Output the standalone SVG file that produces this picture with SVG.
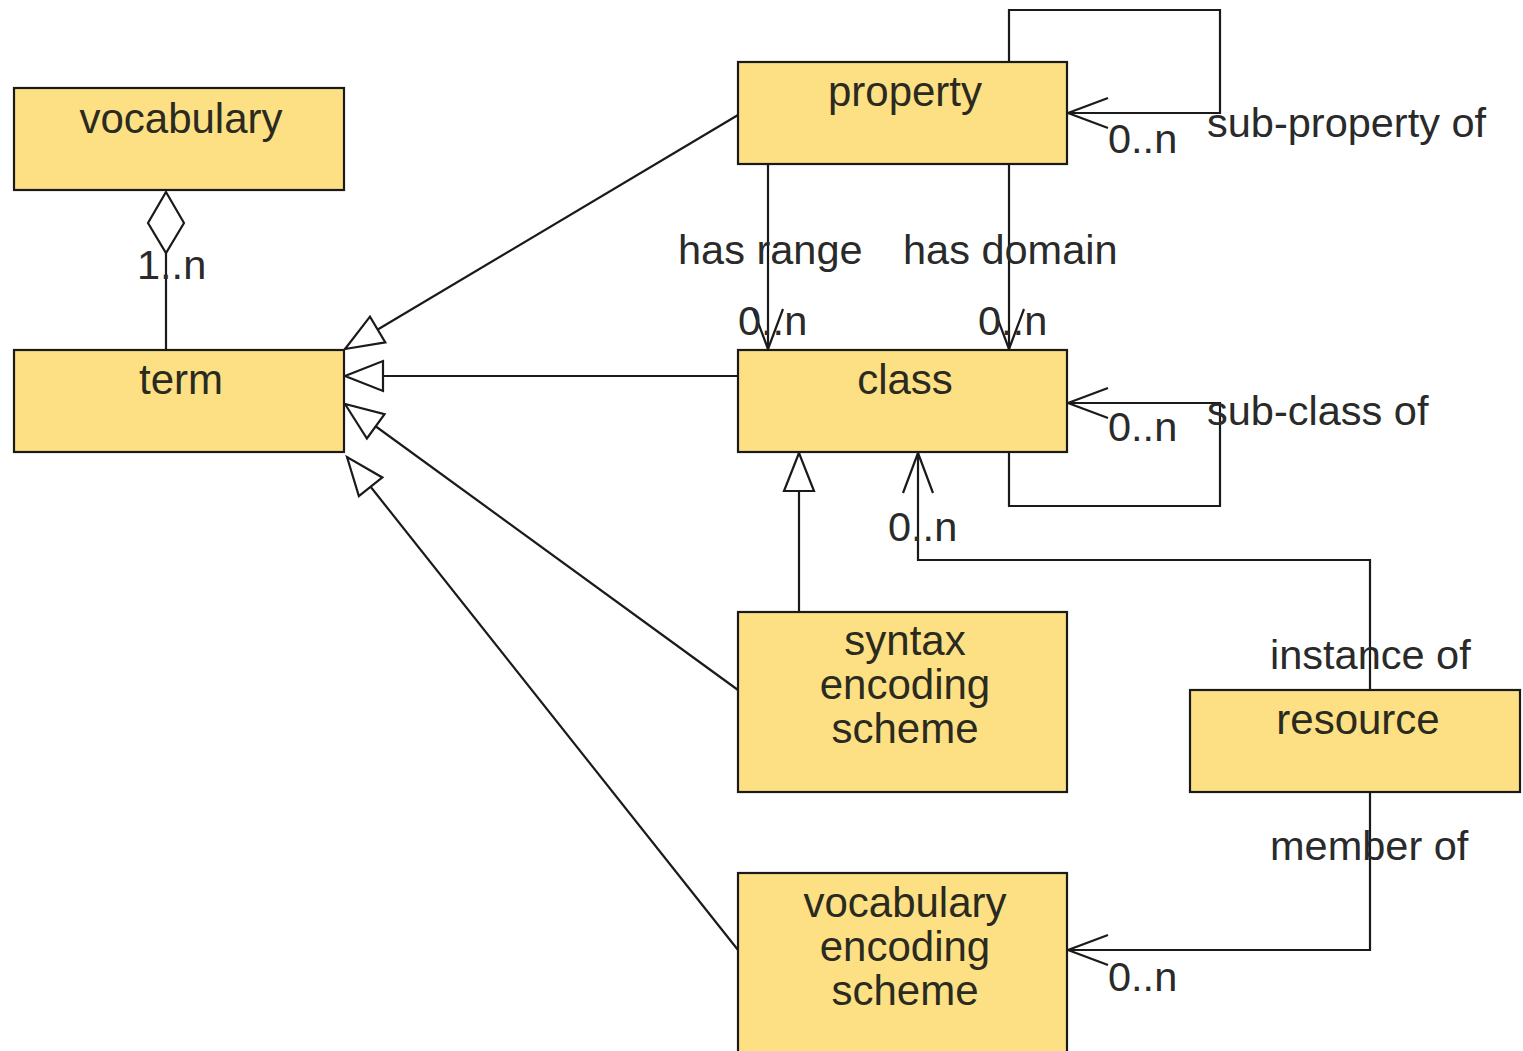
<svg xmlns="http://www.w3.org/2000/svg" width="1523" height="1051" viewBox="0 0 1523 1051">
<style>
.box{fill:#FCE083;stroke:#1a1a1a;stroke-width:2.2}
.t{font-family:"Liberation Sans",Arial,sans-serif;font-size:42px;fill:#2a2a20;text-anchor:middle}
.l{font-family:"Liberation Sans",Arial,sans-serif;font-size:41.5px;fill:#2a2a2a}
.c{fill:none;stroke:#1a1a1a;stroke-width:2.2}
</style>
<defs>
<marker id="gen" markerUnits="userSpaceOnUse" orient="auto" refX="0" refY="0" markerWidth="60" markerHeight="60" overflow="visible">
<polygon points="0,0 -38,-15 -38,15" fill="#fff" stroke="#1a1a1a" stroke-width="2.2"/>
</marker>
<marker id="open" markerUnits="userSpaceOnUse" orient="auto" refX="0" refY="0" markerWidth="60" markerHeight="60" overflow="visible">
<polyline points="-40,-15 0,0 -40,15" fill="none" stroke="#1a1a1a" stroke-width="2.2"/>
</marker>
</defs>
<rect width="1523" height="1051" fill="#fff"/>
<g id="connectors">
<line class="c" x1="166" y1="253" x2="166" y2="350"/>
<polygon points="166,192 184,223 166,253 148,223" fill="#fff" stroke="#1a1a1a" stroke-width="2.2"/>
<line class="c" x1="738" y1="115" x2="345" y2="349" marker-end="url(#gen)"/>
<line class="c" x1="738" y1="376" x2="345" y2="376" marker-end="url(#gen)"/>
<line class="c" x1="738" y1="690" x2="345" y2="404" marker-end="url(#gen)"/>
<line class="c" x1="738" y1="950" x2="347" y2="457" marker-end="url(#gen)"/>
<line class="c" x1="799" y1="612" x2="799" y2="453" marker-end="url(#gen)"/>
<line class="c" x1="768" y1="164" x2="768" y2="349" marker-end="url(#open)"/>
<line class="c" x1="1009" y1="164" x2="1009" y2="349" marker-end="url(#open)"/>
<polyline class="c" points="1009,62 1009,10 1220,10 1220,113 1068,113" marker-end="url(#open)"/>
<polyline class="c" points="1009,452 1009,506 1220,506 1220,403 1068,403" marker-end="url(#open)"/>
<polyline class="c" points="1370,690 1370,560 918,560 918,453" marker-end="url(#open)"/>
<polyline class="c" points="1370,792 1370,950 1068,950" marker-end="url(#open)"/>
<text class="l" x="137" y="279">1..n</text>
<text class="l" x="678" y="264">has range</text>
<text class="l" x="903" y="264">has domain</text>
<text class="l" x="738" y="335">0..n</text>
<text class="l" x="978" y="335">0..n</text>
<text class="l" x="1108" y="153">0..n</text>
<text class="l" x="1207" y="137">sub-property of</text>
<text class="l" x="1108" y="441">0..n</text>
<text class="l" x="1207" y="425">sub-class of</text>
<text class="l" x="888" y="541">0..n</text>
<text class="l" x="1270" y="669">instance of</text>
<text class="l" x="1270" y="860">member of</text>
<text class="l" x="1108" y="991">0..n</text>
</g>
<g id="vocabulary">
<rect class="box" x="14" y="88" width="330" height="102"/>
<text class="t" x="181" y="133">vocabulary</text>
</g>
<g id="term">
<rect class="box" x="14" y="350" width="330" height="102"/>
<text class="t" x="181" y="394">term</text>
</g>
<g id="property">
<rect class="box" x="738" y="62" width="329" height="102"/>
<text class="t" x="905" y="106">property</text>
</g>
<g id="class">
<rect class="box" x="738" y="350" width="329" height="102"/>
<text class="t" x="905" y="394">class</text>
</g>
<g id="syntax-encoding-scheme">
<rect class="box" x="738" y="612" width="329" height="180"/>
<text class="t" x="905" y="655">syntax</text>
<text class="t" x="905" y="699">encoding</text>
<text class="t" x="905" y="743">scheme</text>
</g>
<g id="resource">
<rect class="box" x="1190" y="690" width="330" height="102"/>
<text class="t" x="1358" y="734">resource</text>
</g>
<g id="vocabulary-encoding-scheme">
<rect class="box" x="738" y="873" width="329" height="190"/>
<text class="t" x="905" y="917">vocabulary</text>
<text class="t" x="905" y="961">encoding</text>
<text class="t" x="905" y="1005">scheme</text>
</g>
</svg>
